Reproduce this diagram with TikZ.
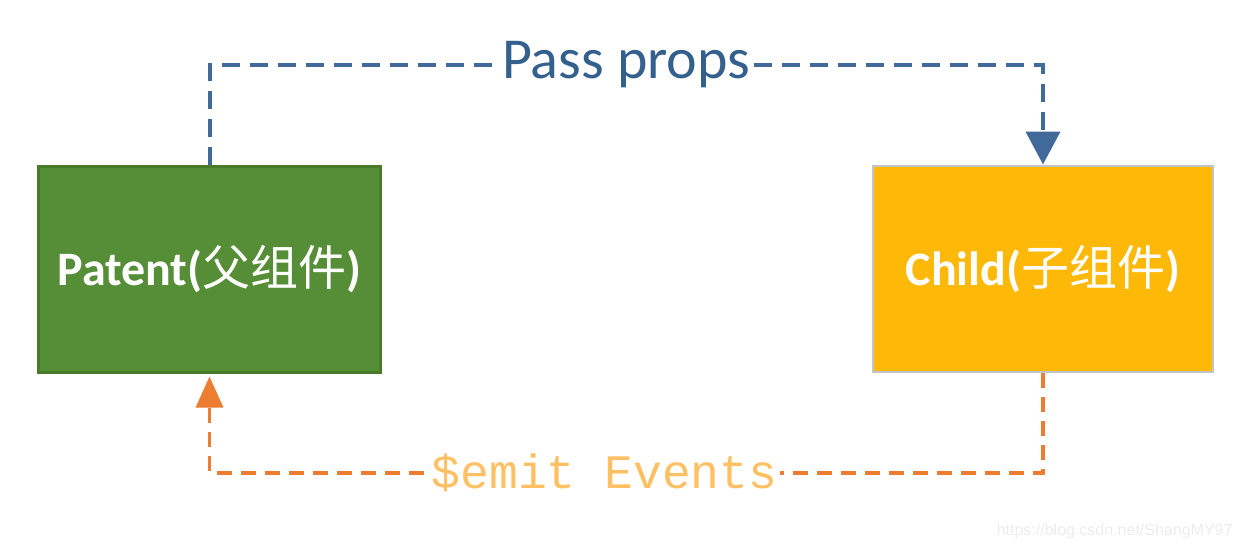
\documentclass[tikz,border=0pt]{standalone}
\usepackage{fontspec}
\setmainfont{Carlito}
\newfontfamily\cjk{Noto Sans CJK SC}
\newfontfamily\monof{Liberation Mono}
\newfontfamily\wmfont{Liberation Sans}
\usetikzlibrary{arrows.meta}
\definecolor{pgreen}{HTML}{568D37}
\definecolor{pgreenb}{HTML}{4A7A2C}
\definecolor{cyellow}{HTML}{FDB808}
\definecolor{cgray}{HTML}{C4C4C4}
\definecolor{lblue}{HTML}{41699A}
\definecolor{tblue}{HTML}{34608E}
\definecolor{lorange}{HTML}{ED7D31}
\definecolor{torange}{HTML}{FFC063}
\definecolor{wmgray}{HTML}{ECECEC}
\tikzset{
  compbox/.style={minimum width=#1, minimum height=206pt, inner sep=0pt, text=white,
    font=\fontsize{48}{52}\selectfont\bfseries},
  propline/.style={draw=lblue, line width=4pt, dash pattern=on 18pt off 10pt,
    -{Triangle[length=33pt,width=34pt]}},
  emitline/.style={draw=lorange, line width=3.2pt, dash pattern=on 15pt off 9pt,
    -{Triangle[length=31pt,width=27pt]}},
}
\begin{document}
\begin{tikzpicture}[x=1pt,y=-1pt]
\useasboundingbox (0,0) rectangle (1244,550);
\node[compbox=342pt, fill=pgreen, draw=pgreenb, line width=3pt] (P) at (209.5,269)
  {Patent({\cjk\mdseries 父组件})};
\node[compbox=340pt, fill=cyellow, draw=cgray, line width=2pt] (C) at (1043,268.5)
  {Child({\cjk\mdseries 子组件})};
\coordinate (b1) at (P.north |- 0,65);
\coordinate (b2) at (C.north |- 0,65);
\coordinate (o1) at (C.south |- 0,473);
\coordinate (o2) at (P.south |- 0,473);
\draw[propline] (P.north) -- (b1) -- node[pos=0.5, fill=white, inner sep=2pt, text=tblue, font=\fontsize{58}{62}\selectfont] {Pass props} (b2) -- (C.north);
\draw[emitline, shorten >=3pt] (C.south) -- (o1) -- node[pos=0.526, fill=white, inner sep=3pt, text=torange, font=\monof\fontsize{48}{52}\selectfont] {\$emit Events} (o2) -- (P.south);
\node[text=wmgray, font=\wmfont\fontsize{16}{18}\selectfont, anchor=east] (wm) at (1236,531) {https://blog.csdn.net/ShangMY97};
\end{tikzpicture}
\end{document}
